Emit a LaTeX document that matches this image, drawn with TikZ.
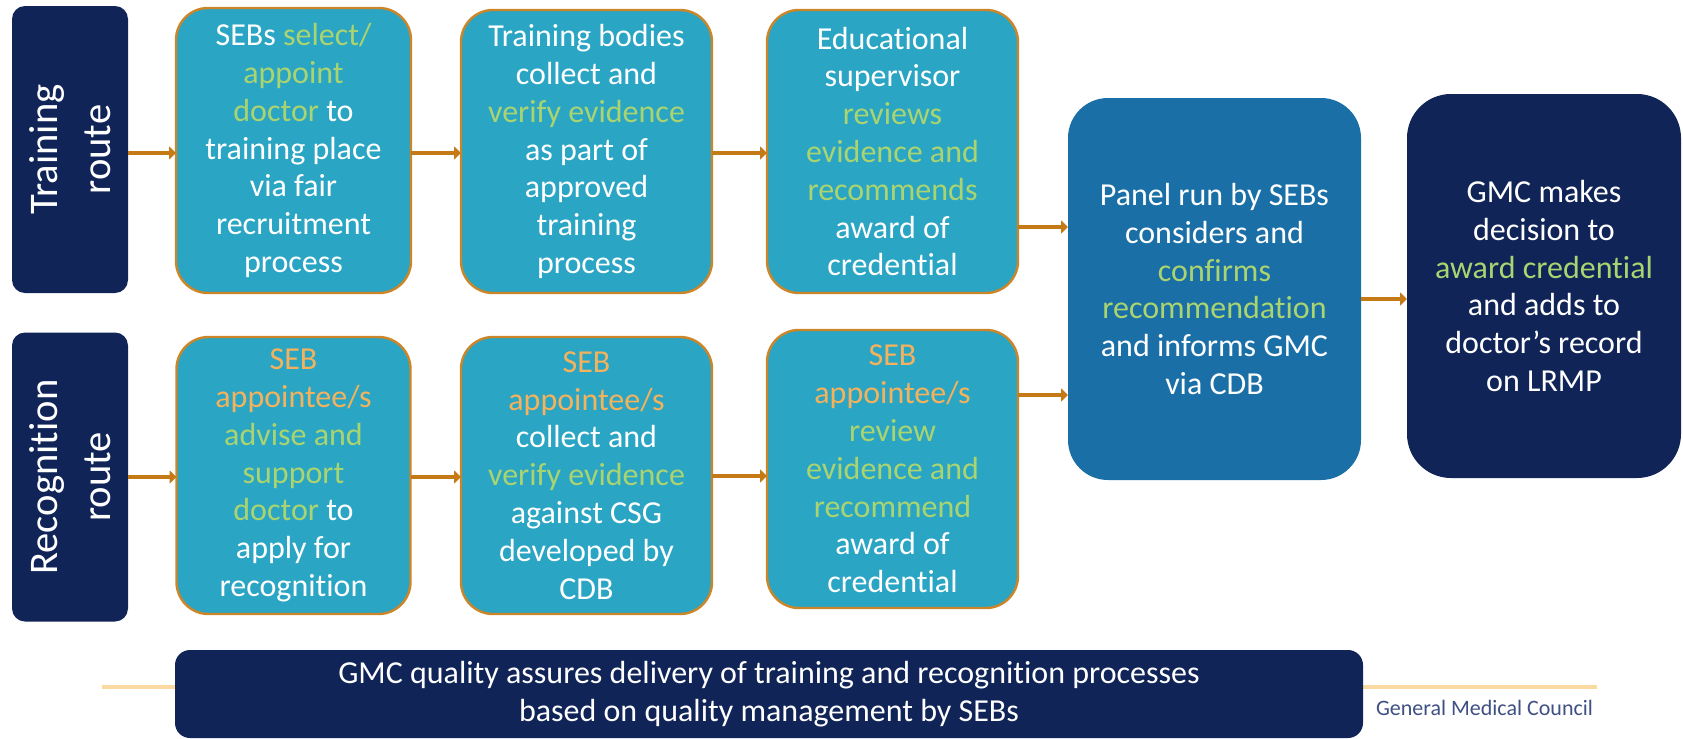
\documentclass[tikz,border=0pt]{standalone}
\usepackage{fontspec}
\setmainfont{Carlito}[Ligatures=NoCommon]
\usetikzlibrary{arrows.meta}
\definecolor{navy}{RGB}{16,36,88}
\definecolor{tealbox}{RGB}{43,165,196}
\definecolor{panelblue}{RGB}{26,111,166}
\definecolor{hlgreen}{RGB}{170,212,112}
\definecolor{hlorange}{RGB}{244,178,92}
\definecolor{arrowor}{RGB}{198,122,22}
\definecolor{boxedge}{RGB}{204,134,40}
\definecolor{peach}{RGB}{253,217,162}
\definecolor{gmcblue}{RGB}{62,80,132}
\newcommand{\gr}[1]{\textcolor{hlgreen}{#1}}
\newcommand{\og}[1]{\textcolor{hlorange}{#1}}
\begin{document}
\begin{tikzpicture}[x=0.5pt,y=-0.5pt,
  every node/.style={inner sep=0pt,outer sep=0pt,text=white,align=center,
    font=\fontsize{16}{18.9}\selectfont},
  routebox/.style={fill=navy,rounded corners=6.5pt,rotate=90,
    minimum height=58pt,font=\fontsize{20.3}{26.5}\selectfont},
  stepbox/.style={fill=tealbox,draw=boxedge,line width=1.2pt,rounded corners=16pt},
  arr/.style={draw=arrowor,line width=2.2pt,-{Triangle[length=3.5pt,width=6.5pt]}},
]
\useasboundingbox (0,0) rectangle (1683,739);

% route labels
\node[routebox,minimum width=143.5pt] (tr) at (70,149.5) {Training\\route};
\node[routebox,minimum width=144.5pt] (rc) at (70,477) {Recognition\\route};

% training row
\node[stepbox,minimum width=117.5pt,minimum height=142.5pt] (t1) at (293.5,150.5)
  {SEBs \gr{select/}\\\gr{appoint}\\\gr{doctor} to\\training place\\via fair\\recruitment\\process};
\node[stepbox,minimum width=125.5pt,minimum height=141.5pt] (t2) at (586.5,151.5)
  {Training bodies\\collect and\\\gr{verify evidence}\\as part of\\approved\\training\\process};
\node[stepbox,minimum width=125.5pt,minimum height=141.5pt] (t3) at (892.5,151.5)
  {Educational\\supervisor\\\gr{reviews}\\\gr{evidence and}\\\gr{recommends}\\award of\\credential};

% recognition row
\node[stepbox,minimum width=117pt,minimum height=138.5pt] (r1) at (293.5,475.5)
  {\og{SEB}\\\og{appointee/s}\\\gr{advise and}\\\gr{support}\\\gr{doctor} to\\apply for\\recognition};
\node[stepbox,minimum width=125.5pt,minimum height=138.5pt] (r2) at (586.5,475.5)
  {\og{SEB}\\\og{appointee/s}\\collect and\\\gr{verify evidence}\\against CSG\\developed by\\CDB};
\node[stepbox,minimum width=125.5pt,minimum height=139pt] (r3) at (892.5,469)
  {\og{SEB}\\\og{appointee/s}\\\gr{review}\\\gr{evidence and}\\\gr{recommend}\\award of\\credential};

% panel and decision
\node[fill=panelblue,rounded corners=20pt,minimum width=146.5pt,minimum height=191pt] (pn) at (1214.5,289)
  {Panel run by SEBs\\considers and\\\gr{confirms}\\\gr{recommendation}\\and informs GMC\\via CDB};
\node[fill=navy,rounded corners=22pt,minimum width=137pt,minimum height=192pt] (gm) at (1544,286)
  {GMC makes\\decision to\\\gr{award credential}\\and adds to\\doctor’s record\\on LRMP};

% arrows
\draw[arr] (tr.south |- 0,153) -- (t1.west |- 0,153);
\draw[arr] (t1.east |- 0,153) -- (t2.west |- 0,153);
\draw[arr] (t2.east |- 0,153) -- (t3.west |- 0,153);
\draw[arr] (rc.south |- 0,477) -- (r1.west |- 0,477);
\draw[arr] (r1.east |- 0,477) -- (r2.west |- 0,477);
\draw[arr] (r2.east |- 0,476) -- (r3.west |- 0,476);
\draw[arr] (t3.east |- 0,227) -- (pn.west |- 0,227);
\draw[arr] (r3.east |- 0,395) -- (pn.west |- 0,395);
\draw[arr] (pn.east |- 0,299) -- (gm.west |- 0,299);

% footer
\coordinate (fl) at (102,687);
\coordinate (fr) at (1597,687);
\draw[peach,line width=1.6pt] (fl) -- (fr);
\node[fill=navy,rounded corners=7.5pt,minimum width=594pt,minimum height=44pt] (qa) at (769,694)
  {GMC quality assures delivery of training and recognition processes\\based on quality management by SEBs};
\node[text=gmcblue,font=\fontsize{11}{13}\selectfont,anchor=west] (gmc) at (1376,708) {General Medical Council};
\end{tikzpicture}
\end{document}
